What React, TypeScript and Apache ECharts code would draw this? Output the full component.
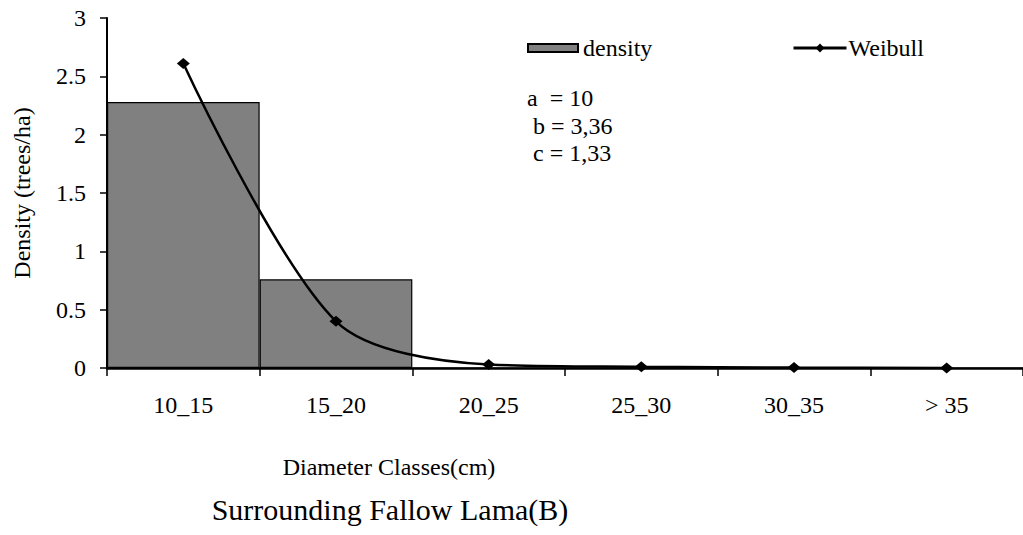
import React, { useEffect, useRef } from "react";
import * as echarts from "echarts";

const categories = ["10_15", "15_20", "20_25", "25_30", "30_35", "> 35"];
const densityValues = [2.28, 0.76, 0, 0, 0, 0];
const weibullValues = [2.61, 0.4, 0.03, 0.01, 0.004, 0.001];
const annotations = ["a  = 10", " b = 3,36", " c = 1,33"];

const FONT = "Liberation Serif";

export default function App() {
  const ref = useRef<HTMLDivElement>(null);
  useEffect(() => {
    if (!ref.current) return;
    const chart = echarts.init(ref.current, undefined, { renderer: "svg" });
    chart.setOption({
      animation: false,
      backgroundColor: "#ffffff",
      textStyle: { fontFamily: FONT, color: "#000" },
      title: {
        text: "Surrounding Fallow Lama(B)",
        left: 390,
        top: 494,
        textAlign: "center",
        padding: 0,
        textStyle: { fontFamily: FONT, fontSize: 30, fontWeight: "normal", color: "#000" },
      },
      legend: [
        {
          data: [{ name: "density", icon: "rect" }],
          left: 527,
          top: 36,
          padding: 0,
          itemWidth: 50,
          itemHeight: 8,
          textStyle: { fontFamily: FONT, fontSize: 24, color: "#000" },
        },
        {
          data: ["Weibull"],
          left: 792,
          top: 36,
          padding: 0,
          itemWidth: 53,
          itemHeight: 11,
          lineStyle: { width: 3, color: "#000" },
          textStyle: { fontFamily: FONT, fontSize: 24, color: "#000", padding: [0, 0, 0, -3] },
        },
      ],
      graphic: annotations.map((t, i) => ({
        type: "text",
        left: 527,
        top: 86 + i * 27.5,
        style: { text: t, font: `24px ${FONT}`, fill: "#000" },
      })),
      grid: { left: 107, top: 18, width: 919, height: 350, containLabel: false },
      xAxis: {
        type: "category",
        data: categories,
        boundaryGap: true,
        name: "Diameter Classes(cm)",
        nameLocation: "middle",
        nameGap: 87,
        nameTextStyle: { fontFamily: FONT, fontSize: 24, color: "#000", padding: [0, 352, 0, 0] },
        axisLine: { lineStyle: { color: "#000", width: 2.5 } },
        axisTick: { show: true, length: 8, lineStyle: { color: "#000", width: 1.5 } },
        axisLabel: { fontFamily: FONT, fontSize: 24, color: "#000", margin: 25 },
      },
      yAxis: {
        type: "value",
        min: 0,
        max: 3,
        interval: 0.5,
        name: "Density (trees/ha)",
        nameLocation: "middle",
        nameGap: 73,
        nameRotate: 90,
        nameTextStyle: { fontFamily: FONT, fontSize: 24, color: "#000" },
        axisLine: { show: true, lineStyle: { color: "#000", width: 2 } },
        axisTick: { show: true, length: 7, lineStyle: { color: "#000", width: 1.5 } },
        axisLabel: { fontFamily: FONT, fontSize: 24, color: "#000", margin: 21 },
        splitLine: { show: false },
      },
      series: [
        {
          name: "density",
          type: "bar",
          data: densityValues,
          barCategoryGap: "0%",
          itemStyle: { color: "#808080", borderColor: "#000", borderWidth: 1.2 },
        },
        {
          name: "Weibull",
          type: "line",
          data: weibullValues,
          smooth: 0.3,
          symbol: "diamond",
          symbolSize: [13, 11],
          lineStyle: { color: "#000", width: 2.5 },
          itemStyle: { color: "#000" },
        },
      ],
    });
    return () => chart.dispose();
  }, []);
  return <div ref={ref} style={{ width: 1023, height: 535, position: "absolute", left: 0, top: 0 }} />;
}
